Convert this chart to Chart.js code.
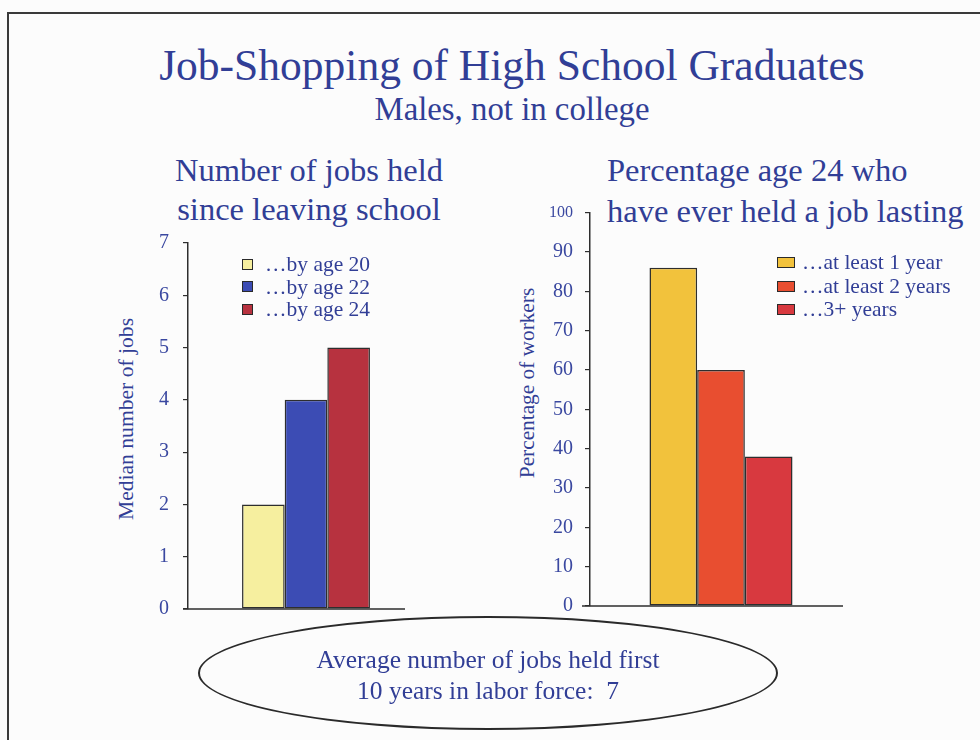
<!DOCTYPE html>
<html>
<head>
<meta charset="utf-8">
<script src="https://cdn.jsdelivr.net/npm/chart.js@4/dist/chart.umd.min.js"></script>
<style>
  html, body { margin:0; padding:0; }
  body { width:980px; height:740px; position:relative; overflow:hidden; background:#fcfcfc;
         font-family:"Liberation Serif","Times New Roman",serif; color:#313e96; }
  .frame { position:absolute; left:7px; top:12px; right:-4px; bottom:-4px;
           border-top:2px solid #3a3a3a; border-left:2px solid #3a3a3a; }
  .txt { position:absolute; white-space:nowrap; line-height:1; }
  .center { text-align:center; }
  .rot { transform:translate(-50%,-50%) rotate(-90deg); }
  .legend { position:absolute; font-size:21.5px; }
  .legend .row { display:flex; align-items:center; white-space:nowrap; }
  .legend .box { display:inline-block; border:1.5px solid #2a2a2a; box-sizing:border-box; }
  .oval { position:absolute; left:198px; top:616px; width:580px; height:114px;
          border:2px solid #2a2a2a; border-radius:50%; box-sizing:border-box; }
  canvas { position:absolute; }
</style>
</head>
<body>
<div class="frame"></div>

<div class="txt center" style="left:112px;width:800px;top:44px;font-size:43.5px;">Job-Shopping of High School Graduates</div>
<div class="txt center" style="left:212px;width:600px;top:93px;font-size:32.8px;">Males, not in college</div>

<div class="txt center" style="left:159px;width:300px;top:151px;font-size:32.5px;line-height:39px;white-space:normal;">Number of jobs held<br>since leaving school</div>
<div class="txt" style="left:607px;top:150px;font-size:32.5px;line-height:41px;">Percentage age 24 who<br>have ever held a job lasting</div>

<div class="txt rot" style="left:127px;top:419px;font-size:21.6px;">Median number of jobs</div>
<div class="txt rot" style="left:528px;top:383px;font-size:21.3px;">Percentage of workers</div>

<canvas id="chartJobs" width="310" height="418" style="left:130px;top:217px;width:310px;height:418px;"></canvas>
<canvas id="chartTenure" width="330" height="439" style="left:540px;top:191px;width:330px;height:439px;"></canvas>

<div class="legend" id="legJobs" style="left:242px;top:253px;line-height:22.5px;"></div>
<div class="legend" id="legTenure" style="left:777px;top:251px;line-height:23.5px;"></div>

<div class="oval"></div>
<div class="txt center" style="left:238px;width:500px;top:647px;font-size:25.5px;">Average number of jobs held first</div>
<div class="txt center" style="left:238px;width:500px;top:678px;font-size:25.5px;">10 years in labor force:&nbsp; 7</div>

<script>
// ── data ───────────────────────────────────────────────────────────────
const jobsSeries  = ['…by age 20', '…by age 22', '…by age 24'];
const jobsValues  = [2, 4, 5];
const jobsColors  = ['#f6ef9f', '#3c4cb4', '#b7323f'];
const jobsYMax    = 7;
const jobsYStep   = 1;

const tenureSeries = ['…at least 1 year', '…at least 2 years', '…3+ years'];
const tenureValues = [86, 60, 38];
const tenureColors = ['#f2c23c', '#e84e30', '#d8393f'];
const tenureYMax   = 100;
const tenureYStep  = 10;

const TXT  = '#3a48a0';
const LINE = '#2e2e2e';
const FONT = '"Liberation Serif","Times New Roman",serif';

// x axis line drawn by hand so it can run past the bars like in the slide
const baseline = {
  id: 'baseline',
  afterDatasetsDraw(chart, args, opts) {
    const { ctx, chartArea: a } = chart;
    ctx.save();
    ctx.strokeStyle = LINE; ctx.lineWidth = 1.5;
    ctx.beginPath();
    ctx.moveTo(a.left - opts.before, a.bottom);
    ctx.lineTo(a.left + opts.length, a.bottom);
    ctx.stroke();
    ctx.restore();
  },
};

function makeChart(id, series, values, colors, yMax, yStep, cfg) {
  return new Chart(document.getElementById(id), {
    type: 'bar',
    data: {
      labels: [''],
      datasets: series.map((s, i) => ({
        label: s, data: [values[i]],
        backgroundColor: colors[i], borderColor: LINE, borderWidth: 1.5, borderSkipped: false,
      })),
    },
    options: {
      responsive: false, animation: false,
      layout: { padding: { top: 0, bottom: 0, left: 0, right: cfg.padRight } },
      categoryPercentage: cfg.catPct, barPercentage: 1,
      plugins: { legend: { display: false }, tooltip: { enabled: false },
                 baseline: { before: cfg.before, length: cfg.length } },
      scales: {
        x: { display: false },
        y: {
          min: 0, max: yMax,
          afterFit: s => { s.width = cfg.yWidth; },
          border: { display: true, color: LINE, width: 1.5 },
          grid: { drawOnChartArea: false, drawTicks: true, tickLength: 5, color: LINE, lineWidth: 1.2 },
          ticks: {
            stepSize: yStep, padding: cfg.tickPad, color: TXT,
            font: c => ({ family: FONT, size: (c.tick && c.tick.value === 100) ? 16 : cfg.tickSize }),
          },
        },
      },
    },
    plugins: [baseline],
  });
}

function buildLegend(elId, series, colors, boxW, boxH, gap) {
  document.getElementById(elId).innerHTML = series.map((s, i) =>
    `<div class="row"><span class="box" style="width:${boxW}px;height:${boxH}px;background:${colors[i]};margin-right:${gap}px"></span>${s}</div>`
  ).join('');
}

makeChart('chartJobs', jobsSeries, jobsValues, jobsColors, jobsYMax, jobsYStep,
  { yWidth: 58, padRight: 16, catPct: 0.542, before: 5, length: 217, tickPad: 14, tickSize: 20 });
makeChart('chartTenure', tenureSeries, tenureValues, tenureColors, tenureYMax, tenureYStep,
  { yWidth: 50, padRight: 18, catPct: 0.546, before: 8, length: 253, tickPad: 12, tickSize: 20 });

buildLegend('legJobs', jobsSeries, jobsColors, 11, 11, 12);
buildLegend('legTenure', tenureSeries, tenureColors, 18, 11, 7);
</script>
</body>
</html>
